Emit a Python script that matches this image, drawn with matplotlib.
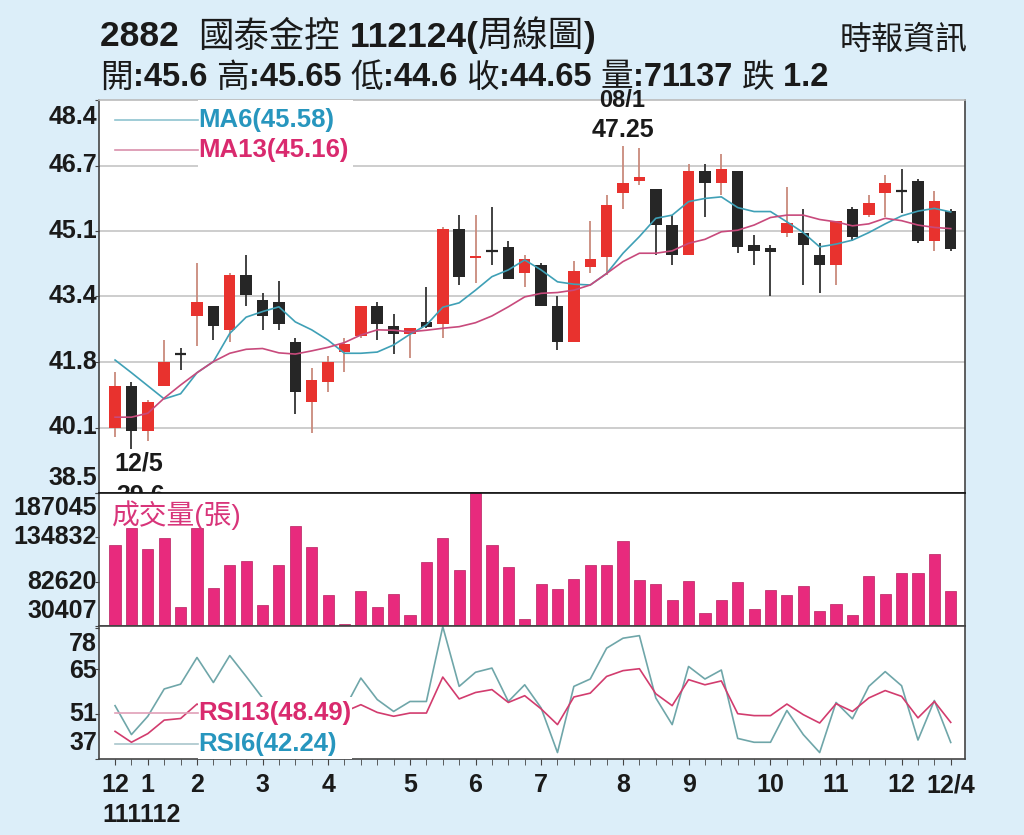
import numpy as np
import matplotlib
matplotlib.use('Agg')
import matplotlib.pyplot as plt
from matplotlib.patches import Rectangle
from matplotlib.transforms import ScaledTranslation

FAM = ['Liberation Sans', 'Noto Sans CJK TC', 'DejaVu Sans']
plt.rcParams['font.family'] = FAM

# ---------------- data (weekly) ----------------
opens = [40.15, 41.2, 40.05, 41.2, 42.0, 42.95, 43.2, 42.6, 44.0, 43.35,
         43.3, 42.3, 40.8, 41.3, 42.05, 42.45, 43.2, 42.7, 42.5, 42.8,
         42.75, 45.15, 44.42, 44.6, 44.7, 44.05, 44.25, 43.2, 42.3, 44.2,
         44.45, 46.05, 46.35, 46.15, 45.25, 44.5, 46.6, 46.3, 46.6, 44.75,
         44.66, 45.05, 45.05, 44.5, 44.25, 45.65, 45.5, 46.05, 46.1, 46.35,
         44.85, 45.6]
highs = [41.55, 41.3, 40.85, 42.35, 42.15, 44.3, 43.2, 44.05, 44.5, 43.55,
         43.85, 42.4, 41.65, 41.95, 42.4, 43.2, 43.3, 43.0, 42.65, 43.7,
         45.2, 45.5, 45.5, 45.7, 44.85, 44.5, 44.3, 43.45, 44.35, 45.35,
         46.0, 47.25, 47.2, 46.15, 45.5, 46.8, 46.8, 47.05, 46.6, 45.0,
         44.75, 46.2, 45.65, 44.8, 45.35, 45.7, 46.0, 46.5, 46.65, 46.4,
         46.1, 45.65]
lows = [39.9, 39.6, 39.8, 41.2, 41.6, 42.2, 42.35, 42.3, 43.2, 42.6,
        42.6, 40.5, 40.0, 41.05, 41.55, 42.4, 42.35, 42.0, 41.9, 42.65,
        42.4, 43.75, 43.8, 44.25, 43.9, 43.7, 43.2, 42.1, 42.3, 44.05,
        44.0, 45.65, 46.25, 44.5, 44.25, 44.5, 45.45, 46.0, 44.55, 44.25,
        43.45, 44.95, 43.75, 43.55, 43.75, 44.85, 45.45, 45.45, 45.55, 44.8,
        44.6, 44.6]
closes = [41.2, 40.05, 40.8, 41.8, 42.0, 43.3, 42.7, 44.0, 43.5, 42.95,
          42.75, 41.05, 41.35, 41.8, 42.25, 43.2, 42.75, 42.5, 42.65, 42.67,
          45.15, 43.95, 44.47, 44.6, 43.9, 44.4, 43.2, 42.3, 44.1, 44.4,
          45.75, 46.3, 46.45, 45.25, 44.5, 46.6, 46.3, 46.65, 44.7, 44.6,
          44.58, 45.3, 44.75, 44.25, 45.35, 44.95, 45.8, 46.3, 46.1, 44.85,
          45.85, 44.65]
ma6 = [41.85, 41.53, 41.2, 40.87, 41.0, 41.53, 41.81, 42.52, 42.93, 43.07,
       43.19, 42.81, 42.61, 42.35, 42.02, 42.02, 42.05, 42.23, 42.5, 42.73,
       43.18, 43.29, 43.61, 43.95, 44.12, 44.37, 44.12, 43.82, 43.76, 43.74,
       44.03, 44.54, 44.96, 45.42, 45.5, 45.84, 45.92, 45.96, 45.69, 45.59,
       45.59, 45.33, 45.06, 44.7, 44.77, 44.87, 45.06, 45.28, 45.48, 45.6,
       45.67, 45.58]
ma13 = [40.41, 40.41, 40.51, 40.89, 41.22, 41.53, 41.81, 42.02, 42.12, 42.14,
        42.03, 42.0, 42.08, 42.17, 42.29, 42.48, 42.61, 42.6, 42.56, 42.6,
        42.65, 42.69, 42.79, 42.96, 43.19, 43.44, 43.53, 43.55, 43.61, 43.74,
        44.03, 44.33, 44.54, 44.54, 44.6, 44.79, 44.89, 45.08, 45.12, 45.25,
        45.44, 45.5, 45.5, 45.39, 45.33, 45.23, 45.28, 45.42, 45.36, 45.25,
        45.19, 45.16]
volume = [125252, 145722, 121321, 133517, 53230, 145722, 75664, 102819, 107542, 55202,
          102430, 148084, 123292, 66618, 32768, 71341, 53230, 67799, 43004, 105582,
          134309, 96916, 187045, 126044, 99677, 38278, 80387, 73699, 85900, 102037,
          102037, 129978, 85112, 79996, 60711, 83538, 45365, 60711, 81965, 50872,
          72911, 66618, 78028, 47723, 56775, 43004, 89442, 67799, 93376, 93000,
          115022, 71137]
rsi6 = [53.7, 44.7, 50.4, 58.9, 60.4, 68.7, 60.9, 69.3, 62.8, 56.1,
        53.0, 40.0, 43.0, 47.0, 52.7, 62.3, 55.6, 51.9, 55.0, 55.0,
        78.3, 59.7, 64.1, 65.4, 55.0, 60.2, 53.0, 39.1, 59.7, 62.0,
        71.6, 74.7, 75.5, 56.1, 47.8, 65.9, 62.0, 64.8, 43.5, 42.3,
        42.3, 52.2, 44.7, 39.1, 54.7, 49.6, 59.7, 64.3, 59.9, 43.0,
        55.3, 42.24]
rsi13 = [45.7, 42.3, 45.0, 49.2, 49.7, 54.2, 52.0, 56.0, 54.5, 53.0,
         52.0, 46.0, 47.0, 49.0, 51.8, 54.0, 51.6, 50.4, 51.4, 51.4,
         62.6, 55.8, 57.8, 58.7, 54.7, 56.8, 52.7, 47.8, 56.4, 57.6,
         62.8, 64.6, 65.2, 57.4, 53.7, 61.8, 60.2, 61.4, 51.2, 50.6,
         50.6, 54.2, 50.9, 48.3, 54.3, 51.9, 56.1, 58.4, 56.6, 49.9,
         55.0, 48.49]
month_pos = [0, 2, 5, 9, 13, 18, 22, 26, 31, 35, 40, 44, 48, 51]
month_lbl = ['12', '1', '2', '3', '4', '5', '6', '7', '8', '9', '10', '11', '12', '12/4']
year_lbl = ['111', '112']
price_tick_lbl = ['38.5', '40.1', '41.8', '43.4', '45.1', '46.7', '48.4']
vol_ticks = [30407, 82620, 134832, 187045]
rsi_ticks = [37, 51, 65, 78]
low_idx, low_date = 1, '12/5'
high_idx, high_date = 31, '08/1'

# ---------------- style ----------------
BG = '#dceef9'
RED = '#e8322e'
REDWICK = '#c98a7c'
BLK = '#262626'
VOLC = '#e82a7d'
MA6C = '#3fa0b6'
MA13C = '#c84a7c'
RSI6C = '#6fa6a9'
RSI13C = '#d23c6e'
GRID = '#c9c9c9'
TXT = '#1a1a1a'
TICKFS = 18

n = len(closes)
x = np.arange(n)
o = np.array(opens); h = np.array(highs); l = np.array(lows); c = np.array(closes)

fig = plt.figure(figsize=(10.24, 8.35), dpi=100, facecolor=BG)
L, R = 99 / 1024, 965 / 1024
def fy(px):
    return 1 - px / 835
ax_p = fig.add_axes([L, fy(493), R - L, fy(100) - fy(493)])
ax_v = fig.add_axes([L, fy(626), R - L, fy(493) - fy(626)], sharex=ax_p)
ax_r = fig.add_axes([L, fy(759.3), R - L, fy(626) - fy(759.3)], sharex=ax_p)

for ax in (ax_p, ax_v, ax_r):
    ax.set_facecolor('white')
    for s in ax.spines.values():
        s.set_color('#444444')
        s.set_linewidth(1.2)
ax_p.spines['top'].set_color('#bbbbbb')
ax_p.set_xlim(-0.98, 51.87)

# ---------------- price panel ----------------
ptick_pos = np.linspace(38.5, 48.4, 7)
ax_p.set_ylim(38.5, 48.4)
for yv in ptick_pos[1:-1]:
    ax_p.axhline(yv, color=GRID, lw=1.3, zorder=0.5)

up = c > o
body_col = np.where(up, RED, BLK)
wick_col = np.where(up, REDWICK, '#333333')
ax_p.vlines(x, l, h, colors=wick_col, lw=1.3, zorder=2)
bh = np.abs(c - o)
doji = bh < 1e-9
ax_p.bar(x[~doji], bh[~doji], bottom=np.minimum(o, c)[~doji], width=0.7,
         color=body_col[~doji], zorder=3)
ax_p.hlines(c[doji], x[doji] - 0.35, x[doji] + 0.35, colors=BLK, lw=1.6, zorder=3)
ax_p.plot(x, ma6, color=MA6C, lw=1.2, zorder=4)
ax_p.plot(x, ma13, color=MA13C, lw=1.2, zorder=4)

ax_p.set_yticks(ptick_pos)
ax_p.set_yticklabels([])
ax_p.tick_params(axis='y', length=3, color='#444444')
ax_p.tick_params(axis='x', bottom=False, labelbottom=False)
ytr = ax_p.get_yaxis_transform()
shift = {0: 0.15, len(ptick_pos) - 1: -0.17}
for i, (pv, lb) in enumerate(zip(ptick_pos, price_tick_lbl)):
    tr = ytr + ScaledTranslation(-0.02, shift.get(i, 0), fig.dpi_scale_trans)
    ax_p.text(0, pv, lb, transform=tr, ha='right', va='center', fontsize=TICKFS,
              fontweight='bold', color=TXT, clip_on=False)

# legend box (white, hides gridline)
ax_p.add_patch(Rectangle((0.1143, 0.822), 0.179, 0.178, transform=ax_p.transAxes,
                         fc='white', ec='none', zorder=5))
ax_p.plot([0.0185, 0.1143], [0.950, 0.950], transform=ax_p.transAxes, color='#8fc4cf', lw=1.2, zorder=6)
ax_p.plot([0.0185, 0.1143], [0.8735, 0.8735], transform=ax_p.transAxes, color='#d990ac', lw=1.2, zorder=6)
ax_p.text(0.1143, 0.950, f'MA6({ma6[-1]:.2f})', transform=ax_p.transAxes, ha='left', va='center',
          fontsize=18.5, fontweight='bold', color='#2796be', zorder=7)
ax_p.text(0.1143, 0.8735, f'MA13({ma13[-1]:.2f})', transform=ax_p.transAxes, ha='left', va='center',
          fontsize=18.5, fontweight='bold', color='#d92a6e', zorder=7)

# high / low annotations
ax_p.annotate(f'{highs[high_idx]:.2f}', xy=(high_idx, highs[high_idx]),
              xytext=(0, 16), textcoords='offset pixels', ha='center', va='center',
              fontsize=18, fontweight='bold', color=TXT, annotation_clip=False, zorder=7)
ax_p.annotate(high_date, xy=(high_idx, highs[high_idx]),
              xytext=(-1, 45), textcoords='offset pixels', ha='center', va='center',
              fontsize=17, fontweight='bold', color=TXT, annotation_clip=False, zorder=7)
ax_p.annotate(low_date, xy=(low_idx, lows[low_idx]),
              xytext=(7, -14), textcoords='offset pixels', ha='center', va='center',
              fontsize=18, fontweight='bold', color=TXT, annotation_clip=False, zorder=7)
ax_p.annotate(f'{lows[low_idx]:.1f}', xy=(low_idx, lows[low_idx]),
              xytext=(9, -47), textcoords='offset pixels', ha='center', va='center',
              fontsize=18, fontweight='bold', color=TXT, annotation_clip=False, zorder=7)

# ---------------- volume panel ----------------
ax_v.set_ylim(vol_ticks[0], vol_ticks[-1])
ax_v.bar(x, volume, width=0.68, color=VOLC, edgecolor='#b81f5f', lw=0.5, zorder=2)
ax_v.set_yticks(vol_ticks)
ax_v.set_yticklabels([])
ax_v.tick_params(axis='y', length=3, color='#444444')
ax_v.tick_params(axis='x', bottom=False, labelbottom=False)
ax_v.spines['top'].set_color('#111111')
vtr = ax_v.get_yaxis_transform()
shift = {0: 0.15, len(vol_ticks) - 1: -0.15}
for i, vv in enumerate(vol_ticks):
    tr = vtr + ScaledTranslation(-0.02, shift.get(i, 0), fig.dpi_scale_trans)
    ax_v.text(0, vv, str(vv), transform=tr, ha='right', va='center', fontsize=TICKFS,
              fontweight='bold', color=TXT, clip_on=False)
ax_v.text(0.015, 0.835, '成交量(張)', transform=ax_v.transAxes, ha='left', va='center',
          fontsize=20, color='#d8357a', zorder=5)

# ---------------- RSI panel ----------------
ax_r.set_ylim(37, 78.5)
ax_r.plot(x, rsi6, color=RSI6C, lw=1.2, zorder=2)
ax_r.plot(x, rsi13, color=RSI13C, lw=1.2, zorder=2)
ax_r.set_yticks(rsi_ticks)
ax_r.set_yticklabels([])
ax_r.tick_params(axis='y', length=3, color='#444444')
rtr = ax_r.get_yaxis_transform()
shift = {0: 0.16, len(rsi_ticks) - 1: -0.16, 2: -0.02}
for i, rv in enumerate(rsi_ticks):
    tr = rtr + ScaledTranslation(-0.02, shift.get(i, 0), fig.dpi_scale_trans)
    ax_r.text(0, rv, str(rv), transform=tr, ha='right', va='center', fontsize=TICKFS,
              fontweight='bold', color=TXT, clip_on=False)
ax_r.add_patch(Rectangle((0.1143, 0.0), 0.178, 0.467, transform=ax_r.transAxes,
                         fc='white', ec='none', zorder=5))
ax_r.plot([0.0185, 0.1143], [0.347, 0.347], transform=ax_r.transAxes, color='#e0a0b8', lw=1.2, zorder=6)
ax_r.plot([0.0185, 0.1143], [0.115, 0.115], transform=ax_r.transAxes, color='#a9c6cc', lw=1.2, zorder=6)
ax_r.text(0.1143, 0.347, f'RSI13({rsi13[-1]:.2f})', transform=ax_r.transAxes, ha='left', va='center',
          fontsize=18.5, fontweight='bold', color='#d92a6e', zorder=7)
ax_r.text(0.1143, 0.115, f'RSI6({rsi6[-1]:.2f})', transform=ax_r.transAxes, ha='left', va='center',
          fontsize=18.5, fontweight='bold', color='#2796be', zorder=7)

ax_r.set_xticks(x, minor=True)
ax_r.set_xticks(month_pos)
ax_r.set_xticklabels(month_lbl, fontsize=TICKFS, fontweight='bold', color=TXT)
ax_r.tick_params(axis='x', which='both', length=4, color='#444444', pad=6)
ax_r.set_xlim(-0.98, 51.87)
xtr = ax_r.get_xaxis_transform()
ax_r.text(month_pos[0] - 0.8, -0.33, ''.join(year_lbl), transform=xtr, ha='left', va='top',
          fontsize=TICKFS, fontweight='bold', color=TXT, clip_on=False)

# ---------------- header ----------------
bg = fig.add_axes([0, 0, 1, 1], zorder=-1)
bg.axis('off')

def chain(x0, y0, pieces, size):
    prev = bg.text(x0, y0, pieces[0][0], transform=fig.transFigure, fontsize=size,
                   fontweight=pieces[0][1], color=TXT, ha='left', va='baseline')
    for s, w in pieces[1:]:
        prev = bg.annotate(s, xy=(1, 0), xycoords=prev, ha='left', va='bottom',
                           fontsize=size, fontweight=w, color=TXT)

chain(100 / 1024, fy(46.5), [('2882  ', 'bold'), ('國泰金控', 'normal'), (' 112124(', 'bold'),
                             ('周線圖', 'normal'), (')', 'bold')], 25.5)
chg = closes[-2] - closes[-1]
chain(100 / 1024, fy(86.5), [('開', 'normal'), (f':{opens[-1]:g} ', 'bold'),
                             ('高', 'normal'), (f':{highs[-1]:g} ', 'bold'),
                             ('低', 'normal'), (f':{lows[-1]:g} ', 'bold'),
                             ('收', 'normal'), (f':{closes[-1]:g} ', 'bold'),
                             ('量', 'normal'), (f':{volume[-1]} ', 'bold'),
                             ('跌', 'normal'), (f' {chg:.1f}', 'bold')], 23.5)
fig.text(968 / 1024, fy(41), '時報資訊', ha='right', va='center', fontsize=23, color=TXT)

fig.savefig('out.png', dpi=100, facecolor=BG)
